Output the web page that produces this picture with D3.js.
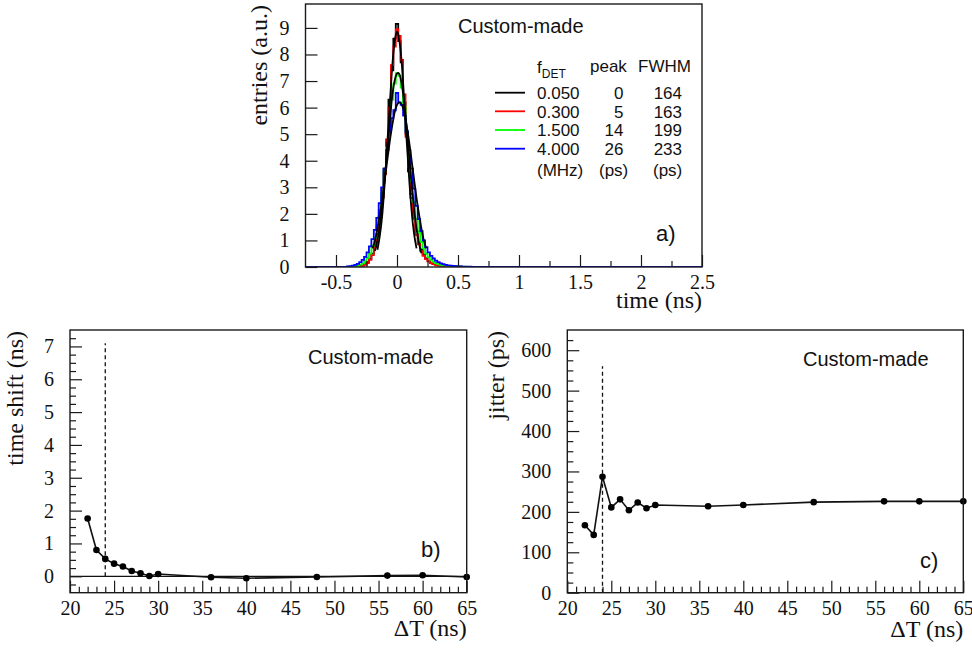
<!DOCTYPE html>
<html><head><meta charset="utf-8">
<script src="https://cdn.jsdelivr.net/npm/d3@7"></script>
<style>
html,body{margin:0;padding:0;background:#fff;}
svg{display:block;}
</style></head>
<body>
<svg id="c" width="972" height="650"></svg>
<script>
// ---------- DATA ----------
// Panel a: histograms of time (ns), bins of width 0.02 ns, centres -0.40 ... 0.60
const binWidth = 0.02;
const firstBinCentre = -0.40;
const hist005 = [0,0,0.01,0.01,0.02,0.03,0.06,0.1,0.18,0.3,0.5,0.8,1.25,1.9,2.6,3.7,4.7,6.3,7.4,8.6,9.15,8.5,7.7,6.2,5.0,3.6,2.75,1.85,1.35,0.9,0.66,0.47,0.33,0.23,0.16,0.12,0.09,0.06,0.05,0.04,0.03,0.02,0.02,0.01,0.01,0.01,0.01,0,0,0,0];
const hist030 = [0,0,0,0.01,0.01,0.02,0.04,0.08,0.15,0.27,0.45,0.75,1.2,1.8,2.65,3.5,4.8,6.0,7.6,8.3,8.95,8.7,7.8,6.5,4.9,3.75,2.6,1.8,1.2,0.85,0.6,0.42,0.3,0.21,0.15,0.11,0.08,0.06,0.05,0.04,0.03,0.02,0.02,0.01,0.01,0.01,0.01,0,0,0,0];
const hist150 = [0.01,0.01,0.02,0.03,0.05,0.09,0.14,0.22,0.34,0.5,0.8,1.1,1.55,2.15,2.8,3.6,4.5,5.45,6.3,6.9,7.3,7.2,6.75,6.05,5.1,4.1,3.2,2.45,1.8,1.3,0.95,0.7,0.5,0.37,0.27,0.2,0.15,0.11,0.08,0.06,0.05,0.04,0.03,0.025,0.02,0.015,0.01,0.01,0.01,0,0];
const hist400 = [0.02,0.03,0.05,0.08,0.12,0.18,0.27,0.38,0.55,0.78,1.05,1.4,1.85,2.4,3.0,3.7,4.4,5.1,5.6,5.9,6.55,6.2,6.1,5.7,5.1,4.4,3.7,2.95,2.3,1.8,1.35,1.0,0.75,0.55,0.42,0.32,0.24,0.18,0.14,0.11,0.08,0.06,0.05,0.04,0.03,0.025,0.02,0.015,0.01,0.01,0.01];
// fitted curves (black)
const fit005T = [-0.16,-0.14,-0.12,-0.10,-0.08,-0.06,-0.04,-0.02,0,0.02,0.04,0.06,0.08,0.10,0.12,0.14,0.16];
const fit005V = [0.65,1.2,2.0,3.2,4.6,6.1,7.5,8.45,8.85,8.5,7.6,6.2,4.7,3.3,2.1,1.25,0.7];
const fit150T = [-0.18,-0.16,-0.14,-0.12,-0.10,-0.08,-0.06,-0.04,-0.02,0,0.02,0.04,0.06,0.08,0.10,0.12,0.14,0.16,0.18,0.20];
const fit150V = [0.6,1.0,1.6,2.4,3.35,4.4,5.45,6.4,7.0,7.28,7.25,6.85,6.15,5.2,4.15,3.1,2.2,1.45,0.9,0.52];
const fit400T = [-0.20,-0.18,-0.16,-0.14,-0.12,-0.10,-0.08,-0.06,-0.04,-0.02,0,0.02,0.04,0.06,0.08,0.10,0.12,0.14,0.16,0.18,0.20,0.22,0.24];
const fit400V = [0.7,1.0,1.45,2.0,2.6,3.3,4.0,4.7,5.3,5.8,6.1,6.2,6.1,5.8,5.3,4.7,4.0,3.3,2.6,2.0,1.45,1.0,0.7];
// legend table
const legendFreq = ["0.050","0.300","1.500","4.000"];
const legendPeak = ["0","5","14","26"];
const legendFwhm = ["164","163","199","233"];
const legendColors = ["#000000","#ff0000","#00ff00","#0000ff"];
// Panels b, c: vs ΔT (ns)
const deltaT   = [22,23,24,25,26,27,28,29,30,36,40,48,56,60,65];
const timeShift = [1.76,0.80,0.53,0.385,0.30,0.16,0.09,0.01,0.07,-0.03,-0.06,-0.02,0.02,0.03,-0.02];
const jitter    = [167,143,287,211,231,204,223,209,217,214,217,224,226,226,226];
const deadTime = 24;
// tick labels
const aXTicks = [-0.5,0,0.5,1,1.5,2,2.5];
const aYTicks = [0,1,2,3,4,5,6,7,8,9];
const bcXTicks = [20,25,30,35,40,45,50,55,60,65];
const bYTicks = [0,1,2,3,4,5,6,7];
const cYTicks = [0,100,200,300,400,500,600];

// ---------- DRAW ----------
const svg = d3.select("#c");
const SERIF = "'Liberation Serif','Times New Roman',serif";
const SANS = "'Liberation Sans',Arial,Helvetica,sans-serif";
const fmt = d => String(d);

function frame(g, x, y) {
  const [x0,x1] = x.range(), [y0,y1] = y.range();
  g.append("rect").attr("x",x0).attr("y",y1).attr("width",x1-x0).attr("height",y0-y1)
   .attr("fill","none").attr("stroke","#1a1a1a").attr("stroke-width",1.4);
}
function axes(g, x, y, xt, xminor, yt, yminor) {
  const [x0] = x.range(), [y0] = y.range();
  const style = sel => { sel.select(".domain").remove(); sel.selectAll("line").attr("stroke","#1a1a1a").attr("stroke-width",1.2);
    sel.selectAll("text").attr("font-family",SERIF).attr("font-size",20).attr("fill","#111"); };
  g.append("g").attr("transform",`translate(0,${y0})`)
    .call(d3.axisBottom(x).tickValues(xminor).tickSize(-6).tickFormat("")).call(style);
  g.append("g").attr("transform",`translate(0,${y0})`)
    .call(d3.axisBottom(x).tickValues(xt).tickSize(-12).tickPadding(8).tickFormat(fmt)).call(style);
  if (yminor.length) g.append("g").attr("transform",`translate(${x0},0)`)
    .call(d3.axisLeft(y).tickValues(yminor).tickSize(-6).tickFormat("")).call(style);
  g.append("g").attr("transform",`translate(${x0},0)`)
    .call(d3.axisLeft(y).tickValues(yt).tickSize(-12).tickPadding(16).tickFormat(fmt)).call(style);
}
function text(g, s, x, y, opts={}) {
  const t = g.append("text").attr("x",x).attr("y",y).text(s)
    .attr("font-family",opts.family||SANS).attr("font-size",opts.size||17)
    .attr("text-anchor",opts.anchor||"start").attr("fill","#111");
  if (opts.rotate) t.attr("transform",`rotate(-90,${x},${y})`);
  return t;
}

// ----- panel a -----
{
  const x = d3.scaleLinear([-0.75, 2.5], [305.5, 702]);
  const y = d3.scaleLinear([0, 9.9], [267, 4]);
  const g = svg.append("g");
  svg.append("clipPath").attr("id","clipA").append("rect")
    .attr("x",305.5).attr("y",4).attr("width",702-305.5).attr("height",267-4);
  const step = d3.line().x(d=>x(d[0])).y(d=>y(d[1])).curve(d3.curveStepAfter);
  const hpts = arr => {
    const pts = [[-0.75,0]];
    arr.forEach((v,i)=>pts.push([firstBinCentre - binWidth/2 + i*binWidth, v]));
    pts.push([firstBinCentre - binWidth/2 + arr.length*binWidth, 0]);
    pts.push([2.5,0]);
    return pts;
  };
  const pg = g.append("g").attr("clip-path","url(#clipA)");
  [hist005,hist030,hist150,hist400].forEach((h,i)=>{
    pg.append("path").attr("d",step(hpts(h))).attr("fill","none")
      .attr("stroke",legendColors[i]).attr("stroke-width",1.8);
  });
  const smooth = d3.line().x(d=>x(d[0])).y(d=>y(d[1])).curve(d3.curveNatural);
  [[fit005T,fit005V],[fit150T,fit150V],[fit400T,fit400V]].forEach(([t,v])=>{
    pg.append("path").attr("d",smooth(t.map((tt,i)=>[tt,v[i]]))).attr("fill","none")
      .attr("stroke","#000").attr("stroke-width",1.8);
  });
  axes(g, x, y, aXTicks, d3.range(-0.75,2.5001,0.25).filter(v=>Math.abs(v/0.5-Math.round(v/0.5))>1e-6 && v>-0.74), aYTicks, []);
  frame(g, x, y);
  text(g,"entries (a.u.)",267,5,{family:SERIF,size:24,anchor:"end",rotate:true});
  text(g,"time (ns)",702,308,{family:SERIF,size:24,anchor:"end"});
  text(g,"Custom-made",458,33,{size:20});
  text(g,"a)",656,241,{size:22});
  // legend
  const ft = text(g,"f",537,73,{size:17});
  ft.append("tspan").attr("font-size",12).attr("dy",5).text("DET");
  text(g,"peak",590,72,{size:17});
  text(g,"FWHM",638,72,{size:17});
  const rowY = [92.7,111.3,130,148.7];
  legendFreq.forEach((f,i)=>{
    g.append("line").attr("x1",495).attr("x2",525).attr("y1",rowY[i]).attr("y2",rowY[i])
      .attr("stroke",legendColors[i]).attr("stroke-width",1.8);
    text(g,f,537,rowY[i]+6.3,{size:17});
    text(g,legendPeak[i],623.5,rowY[i]+6.3,{size:17,anchor:"end"});
    text(g,legendFwhm[i],682,rowY[i]+6.3,{size:17,anchor:"end"});
  });
  text(g,"(MHz)",537,176,{size:17});
  text(g,"(ps)",599,176,{size:17});
  text(g,"(ps)",653,176,{size:17});
}

function scatterPanel(cfg) {
  const x = d3.scaleLinear([20,65], [cfg.left, cfg.right]);
  const y = d3.scaleLinear(cfg.yDomain, [592.7, 330]);
  const g = svg.append("g");
  if (cfg.zeroLine) g.append("line").attr("x1",x(20)).attr("x2",x(65)).attr("y1",y(0)).attr("y2",y(0))
      .attr("stroke","#111").attr("stroke-width",1.2);
  g.append("line").attr("x1",x(deadTime)).attr("x2",x(deadTime)).attr("y1",y(0)).attr("y2",y(cfg.dashTop))
    .attr("stroke","#111").attr("stroke-width",1.3).attr("stroke-dasharray","4,3");
  const line = d3.line().x((d,i)=>x(deltaT[i])).y(d=>y(d));
  g.append("path").attr("d",line(cfg.values)).attr("fill","none").attr("stroke","#111").attr("stroke-width",1.6);
  g.selectAll("circle.pt").data(cfg.values).join("circle").attr("class","pt")
    .attr("cx",(d,i)=>x(deltaT[i])).attr("cy",d=>y(d)).attr("r",3.3).attr("fill","#000");
  axes(g, x, y, bcXTicks, d3.range(21,65,1).filter(v=>v%5!==0), cfg.yTicks, cfg.yMinor);
  frame(g, x, y);
  text(g,cfg.yTitle,cfg.yTitleX,331,{family:SERIF,size:24,anchor:"end",rotate:true});
  text(g,"ΔT (ns)",cfg.right,cfg.xTitleY,{family:SERIF,size:24,anchor:"end"});
  text(g,"Custom-made",cfg.cmX,cfg.cmY,{size:20});
  text(g,cfg.label,cfg.labX,cfg.labY,{size:22});
}
scatterPanel({left:70,right:466.7,yDomain:[-0.5,7.5],values:timeShift,zeroLine:true,dashTop:7.1,
  yTicks:bYTicks,yMinor:d3.range(-0.25,7.5,0.25).filter(v=>Math.abs(v-Math.round(v))>1e-6),
  yTitle:"time shift (ns)",yTitleX:23,xTitleY:636,cmX:308,cmY:364,label:"b)",labX:421,labY:557});
scatterPanel({left:567.3,right:963.3,yDomain:[0,650],values:jitter,zeroLine:false,dashTop:560,
  yTicks:cYTicks,yMinor:d3.range(25,650,25).filter(v=>v%100!==0),
  yTitle:"jitter (ps)",yTitleX:504,xTitleY:637,cmX:803,cmY:366,label:"c)",labX:920,labY:568});
</script>
</body></html>
